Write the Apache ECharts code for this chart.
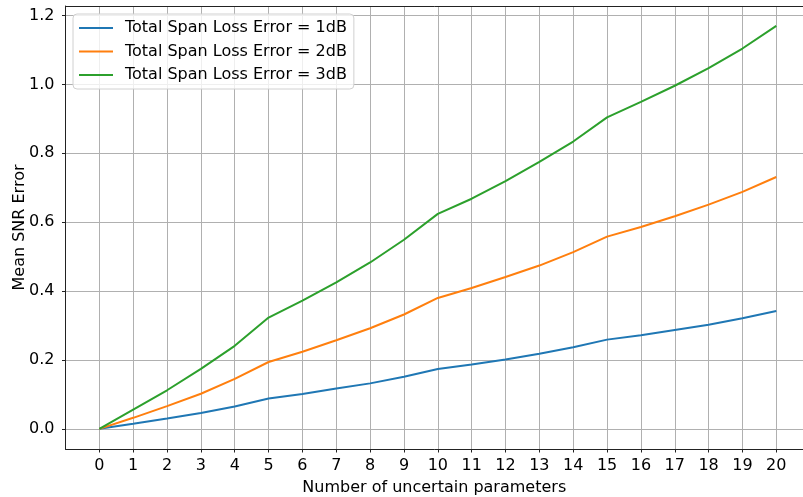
<!DOCTYPE html>
<html>
<head>
<meta charset="utf-8">
<script src="https://cdn.jsdelivr.net/npm/echarts@6/dist/echarts.min.js"></script>
<style>html,body{margin:0;padding:0;background:#fff;overflow:hidden}#c{width:803px;height:497px}</style>
</head>
<body>
<div id="c"></div>
<script>
const xValues = [0,1,2,3,4,5,6,7,8,9,10,11,12,13,14,15,16,17,18,19,20];
const yTicks = [0, 0.2, 0.4, 0.6, 0.8, 1.0, 1.2];
const seriesNames = ['Total Span Loss Error = 1dB', 'Total Span Loss Error = 2dB', 'Total Span Loss Error = 3dB'];
const loss1dB = [0, 0.0145, 0.030, 0.046, 0.065, 0.088, 0.101, 0.117, 0.132, 0.151, 0.174, 0.187, 0.201, 0.218, 0.237, 0.259, 0.272, 0.287, 0.302, 0.321, 0.342];
const loss2dB = [0, 0.032, 0.066, 0.102, 0.145, 0.194, 0.224, 0.257, 0.292, 0.332, 0.380, 0.409, 0.441, 0.474, 0.513, 0.558, 0.586, 0.617, 0.651, 0.688, 0.731];
const loss3dB = [0, 0.056, 0.112, 0.174, 0.241, 0.323, 0.372, 0.425, 0.483, 0.549, 0.624, 0.668, 0.719, 0.775, 0.834, 0.904, 0.949, 0.996, 1.047, 1.104, 1.170];
const colors = ['#1f77b4', '#ff7f0e', '#2ca02c'];

const font = 'DejaVu Sans';
const fs = 16;
const allSeries = [loss1dB, loss2dB, loss3dB];
const axisColor = '#222';

const chart = echarts.init(document.getElementById('c'), null, {renderer: 'canvas'});
chart.setOption({
  animation: false,
  color: colors,
  grid: {left: 65.5, top: 6, bottom: 48, right: 0, show: false, containLabel: false, outerBoundsMode: 'none'},
  legend: {
    orient: 'vertical', left: 73, top: 14,
    padding: [6, 7, 6, 6],
    itemWidth: 34, itemHeight: 16, itemGap: 7.5,
    icon: 'path://M0,0 L34,0 L34,2 L0,2 Z',
    backgroundColor: 'rgba(255,255,255,0.8)', borderColor: '#d0d0d0', borderWidth: 1, borderRadius: 4,
    textStyle: {fontFamily: font, fontSize: fs, color: '#000', padding: [0, 0, 0, 7]},
    data: seriesNames
  },
  xAxis: [{
    type: 'value', min: -1, max: 20.789,
    name: 'Number of uncertain parameters', nameLocation: 'middle', nameGap: 31, nameMoveOverlap: false,
    nameTextStyle: {fontFamily: font, fontSize: fs, color: '#000'},
    axisLine: {show: true, onZero: false, lineStyle: {color: axisColor, width: 1}},
    axisTick: {show: true, length: 3.5, customValues: xValues, lineStyle: {color: axisColor}},
    axisLabel: {customValues: xValues, fontFamily: font, fontSize: fs, color: '#000', margin: 9},
    splitLine: {show: true, lineStyle: {color: '#b0b0b0', width: 1}}
  }, {
    type: 'value', position: 'top', min: -1, max: 20.789,
    axisLine: {show: true, onZero: false, lineStyle: {color: axisColor, width: 1}},
    axisTick: {show: false}, axisLabel: {show: false}, splitLine: {show: false}
  }],
  yAxis: {
    type: 'value', min: -0.0585, max: 1.2275,
    name: 'Mean SNR Error', nameLocation: 'middle', nameGap: 38, nameMoveOverlap: false,
    nameTextStyle: {fontFamily: font, fontSize: fs, color: '#000'},
    axisLine: {show: true, onZero: false, lineStyle: {color: axisColor, width: 1}},
    axisTick: {show: true, length: 3.5, customValues: yTicks, lineStyle: {color: axisColor}},
    axisLabel: {customValues: yTicks, fontFamily: font, fontSize: fs, color: '#000', margin: 11,
      formatter: v => v.toFixed(1)},
    splitLine: {show: true, lineStyle: {color: '#b0b0b0', width: 1}}
  },
  series: allSeries.map((arr, i) => ({
    name: seriesNames[i], type: 'line', symbol: 'none', xAxisIndex: 0,
    lineStyle: {width: 2, color: colors[i]},
    data: xValues.map((x, j) => [x, arr[j]])
  }))
});
</script>
</body>
</html>
